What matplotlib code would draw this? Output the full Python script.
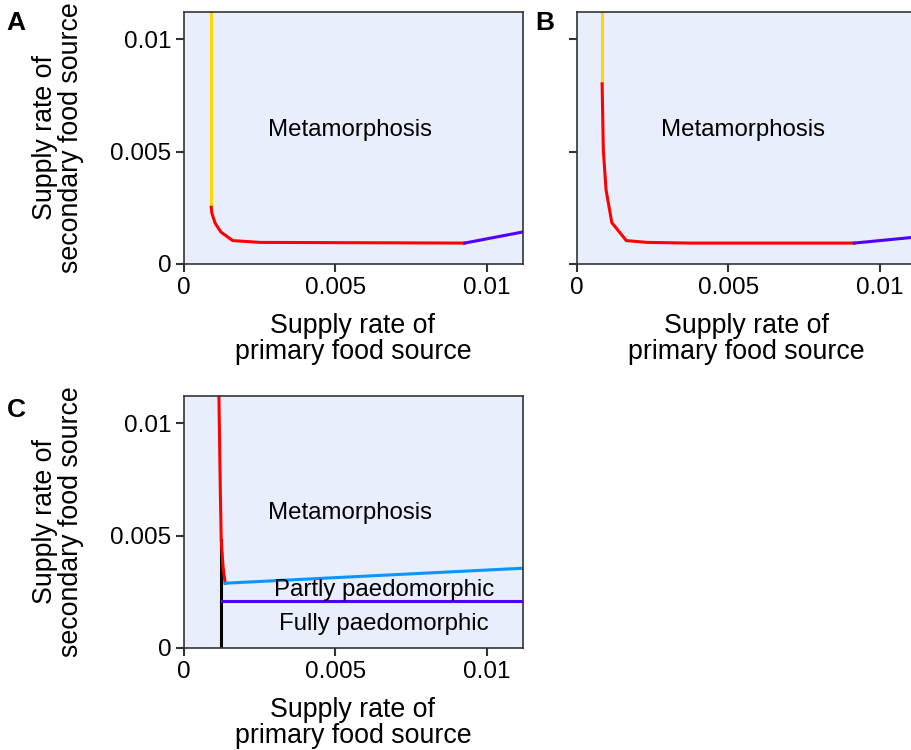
import matplotlib
matplotlib.use("Agg")
import matplotlib.pyplot as plt

plt.rcParams['font.family'] = ['Liberation Sans', 'DejaVu Sans']

# boundary curves, panel A
a_yellow_x = [0.00090, 0.00090]
a_yellow_y = [0.0120, 0.00252]
a_red_x = [0.00090, 0.00092, 0.00103, 0.00122, 0.00161, 0.00252, 0.00927]
a_red_y = [0.00252, 0.00226, 0.00181, 0.00142, 0.00104, 0.00096, 0.00093]
a_blue_x = [0.00927, 0.01126]
a_blue_y = [0.00093, 0.00144]

# boundary curves, panel B
b_yellow_x = [0.00083, 0.00083]
b_yellow_y = [0.0120, 0.00801]
b_red_x = [0.00083, 0.00087, 0.00096, 0.00115, 0.00163, 0.00232, 0.00375, 0.00916]
b_red_y = [0.00801, 0.00506, 0.00329, 0.00184, 0.00104, 0.00096, 0.00093, 0.00093]
b_blue_x = [0.00916, 0.0113]
b_blue_y = [0.00093, 0.00121]

# boundary curves, panel C
c_red_x = [0.00115, 0.00120, 0.00123, 0.00129, 0.00136]
c_red_y = [0.0115, 0.00699, 0.00478, 0.00361, 0.00288]
c_black_x = [0.00123, 0.00123]
c_black_y = [0.0, 0.0048]
c_cyan_x = [0.00136, 0.01126]
c_cyan_y = [0.00288, 0.00355]
c_purple_x = [0.00125, 0.0113]
c_purple_y = [0.00207, 0.00207]

ticks = [0, 0.005, 0.01]
tick_labels = ["0", "0.005", "0.01"]
lim = 0.0112

bg = '#E8EEFB'
yellow = '#FFD700'
red = '#FF0000'
purple = '#5000FF'
cyan = '#0A96FF'
lw = 2.2

W, H = 912, 750
fig = plt.figure(figsize=(W / 100, H / 100), dpi=100)


def px_axes(left, top, right, bottom):
    return fig.add_axes([left / W, 1 - bottom / H, (right - left) / W, (bottom - top) / H])


def style(ax, ylabels=True):
    ax.set_facecolor(bg)
    ax.set_xlim(0, lim)
    ax.set_ylim(0, lim)
    ax.set_xticks(ticks)
    ax.set_yticks(ticks)
    ax.set_xticklabels(tick_labels)
    if ylabels:
        ax.set_yticklabels(tick_labels)
    else:
        ax.set_yticklabels([])
    ax.tick_params(direction='out', length=6, width=1.5, color='#333333',
                   labelsize=17.5, pad=3, labelcolor='black')
    for s in ax.spines.values():
        s.set_color('#333333')
        s.set_linewidth(1.2)


axA = px_axes(184, 12, 523, 264)
axB = px_axes(577, 12, 916, 264)
axC = px_axes(184, 396, 523, 648)

style(axA)
style(axB, ylabels=False)
style(axC)

fs_in = 17.3
axA.plot(a_yellow_x, a_yellow_y, color=yellow, lw=lw, solid_capstyle='butt')
axA.plot(a_red_x, a_red_y, color=red, lw=lw)
axA.plot(a_blue_x, a_blue_y, color=purple, lw=lw)
axA.text(0.0055, 0.00595, "Metamorphosis", ha='center', va='center', fontsize=fs_in)

axB.plot(b_yellow_x, b_yellow_y, color=yellow, lw=lw, solid_capstyle='butt')
axB.plot(b_red_x, b_red_y, color=red, lw=lw)
axB.plot(b_blue_x, b_blue_y, color=purple, lw=lw)
axB.text(0.0055, 0.00595, "Metamorphosis", ha='center', va='center', fontsize=fs_in)

axC.plot(c_black_x, c_black_y, color='black', lw=lw)
axC.plot(c_red_x, c_red_y, color=red, lw=lw)
axC.plot(c_cyan_x, c_cyan_y, color=cyan, lw=lw)
axC.plot(c_purple_x, c_purple_y, color=purple, lw=lw)
axC.text(0.0055, 0.00600, "Metamorphosis", ha='center', va='center', fontsize=fs_in)
axC.text(0.0066, 0.00258, "Partly paedomorphic", ha='center', va='center', fontsize=fs_in)
axC.text(0.0066, 0.00106, "Fully paedomorphic", ha='center', va='center', fontsize=fs_in)

xlab = "Supply rate of\nprimary food source"
ylab = "Supply rate of\nsecondary food source"
fs_lab = 19.3
fig.text(353 / W, 1 - 339 / H, xlab, ha='center', va='center', fontsize=fs_lab, linespacing=1.0)
fig.text(746 / W, 1 - 339 / H, xlab, ha='center', va='center', fontsize=fs_lab, linespacing=1.0)
fig.text(353 / W, 1 - 723 / H, xlab, ha='center', va='center', fontsize=fs_lab, linespacing=1.0)
fig.text(58 / W, 1 - 138 / H, ylab, ha='center', va='center', rotation=90, fontsize=fs_lab,
         linespacing=1.0, multialignment='center')
fig.text(58 / W, 1 - 522 / H, ylab, ha='center', va='center', rotation=90, fontsize=fs_lab,
         linespacing=1.0, multialignment='center')

for lbl, x, y in [("A", 16, 23), ("B", 545, 23), ("C", 16, 410)]:
    fig.text(x / W, 1 - y / H, lbl, ha='center', va='center', fontsize=19, fontweight='bold')

fig.savefig("out.png", dpi=100)
